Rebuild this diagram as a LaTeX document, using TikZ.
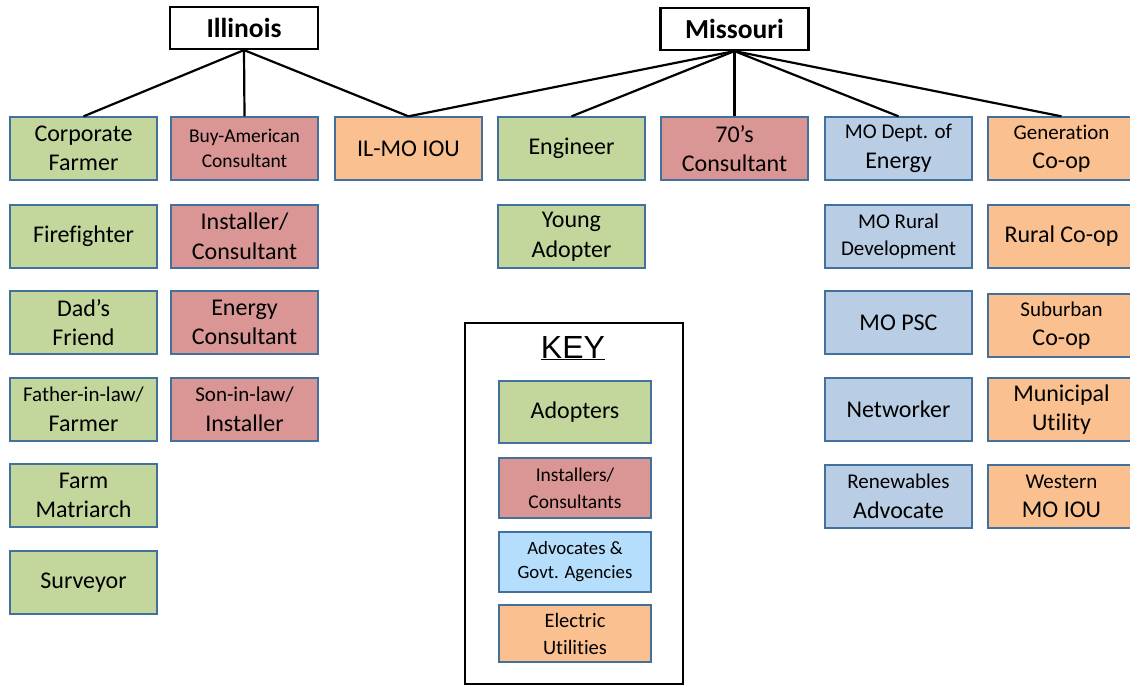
\documentclass[tikz,border=0pt]{standalone}
\usepackage{fontspec}
\setmainfont[Ligatures={NoCommon}]{Carlito}
\newfontfamily\keyfont{Liberation Sans}
\definecolor{gr}{HTML}{C3D69B}
\definecolor{rd}{HTML}{D99694}
\definecolor{bl}{HTML}{B9CDE5}
\definecolor{kbl}{HTML}{B4DEFC}
\definecolor{og}{HTML}{FAC090}
\definecolor{bd}{HTML}{41719C}
\newcommand\smf{\fontsize{21}{28}\selectfont}
\newcommand\xsf{\fontsize{19.5}{25}\selectfont}
\tikzset{
  box/.style={draw=bd, line width=1.3pt, minimum width=147pt, minimum height=63pt,
    inner sep=0pt, align=center, font=\fontsize{24}{29.5}\selectfont},
  grn/.style={box, fill=gr},
  red/.style={box, fill=rd},
  blu/.style={box, fill=bl},
  org/.style={box, fill=og},
  state/.style={draw=black, line width=2.2pt, minimum width=148pt, minimum height=42pt,
    inner sep=0pt, font=\fontsize{27.5}{30}\selectfont\bfseries},
  conn/.style={draw=black, line width=2.2pt},
  keyitem/.style={box, minimum width=152pt},
}
\begin{document}
\begin{tikzpicture}[x=1pt,y=-1pt]
\useasboundingbox (0,0) rectangle (1130,685);
% state headers
\node[state] (il) at (244,28) {Illinois};
\node[state] (mo) at (734.5,29) {Missouri};
% column 1
\node[grn] (cf) at (83.5,148.5) {Corporate\\Farmer};
\node[grn] (ff) at (83.5,236.5) {Firefighter};
\node[grn] (df) at (83.5,322.5) {Dad’s\\Friend};
\node[grn] (fl) at (83.5,409.5) {{\smf Father-in-law/}\\Farmer};
\node[grn] (fm) at (83.5,495.5) {Farm\\Matriarch};
\node[grn] (sv) at (83.5,582.5) {Surveyor};
% column 2
\node[red, font=\xsf] (ba) at (244.5,148.5) {Buy-American\\Consultant};
\node[red] (ic) at (244.5,236.5) {Installer/\\Consultant};
\node[red] (ec) at (244.5,322.5) {Energy\\Consultant};
\node[red] (sl) at (244.5,409.5) {{\smf Son-in-law/}\\Installer};
% column 3
\node[org] (iou) at (408.5,148.5) {IL-MO IOU};
% column 4
\node[grn] (en) at (571.5,148.5) {Engineer};
\node[grn] (ya) at (571.5,236.5) {Young\\Adopter};
% column 5
\node[red] (sc) at (734.5,148.5) {70’s\\Consultant};
% column 6
\node[blu] (de) at (898.5,148.5) {{\smf MO Dept. of}\\Energy};
\node[blu, font=\fontsize{21}{27}\selectfont] (rd) at (898.5,236.5) {MO Rural\\Development};
\node[blu] (psc) at (898.5,322.5) {MO PSC};
\node[blu] (nw) at (898.5,409.5) {Networker};
\node[blu] (ra) at (898.5,496.5) {{\smf Renewables}\\Advocate};
% column 7
\node[org] (gc) at (1061.5,148.5) {{\smf Generation}\\Co-op};
\node[org] (rc) at (1061.5,236.5) {Rural Co-op};
\node[org] (su) at (1061.5,325.5) {{\smf Suburban}\\Co-op};
\node[org] (mu) at (1061.5,409.5) {Municipal\\Utility};
\node[org] (wm) at (1061.5,496.5) {{\smf Western}\\MO IOU};
% connectors
\draw[conn] (il.south) -- (cf.north);
\draw[conn] (il.south) -- (ba.north);
\draw[conn] (il.south) -- (iou.north);
\draw[conn] (mo.south) -- (iou.north);
\draw[conn] (mo.south) -- (en.north);
\draw[conn] (mo.south) -- (sc.north);
\draw[conn] (mo.south) -- (de.north);
\draw[conn] (mo.south) -- (gc.north);
% key
\node[draw=black, line width=2pt, minimum width=218pt, minimum height=361pt, inner sep=0pt] (key) at (574,503.5) {};
\node[font=\keyfont\fontsize{32}{36}\selectfont, inner sep=0pt] (keyt) at (573,348) {\underline{KEY}};
\node[keyitem, fill=gr, minimum height=62pt] (k1) at (575,412) {Adopters};
\node[keyitem, fill=rd, minimum height=60pt, font=\fontsize{19.5}{27}\selectfont] (k2) at (575,488) {Installers/\\Consultants};
\node[keyitem, fill=kbl, minimum height=60pt, font=\fontsize{18.8}{24}\selectfont] (k3) at (575,562) {Advocates \&\\Govt. Agencies};
\node[keyitem, fill=og, minimum height=57pt, font=\fontsize{20.5}{27}\selectfont] (k4) at (575,633.5) {Electric\\Utilities};
\end{tikzpicture}
\end{document}
